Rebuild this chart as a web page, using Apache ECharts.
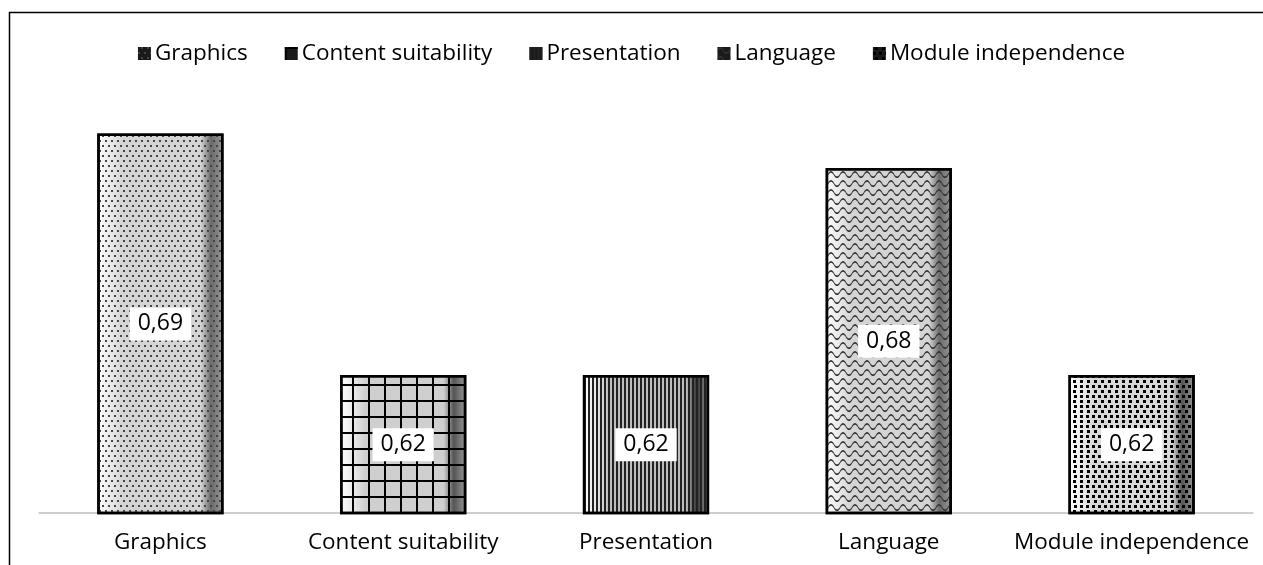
<!DOCTYPE html>
<html>
<head>
<meta charset="utf-8">
<script src="https://cdn.jsdelivr.net/npm/echarts@6/dist/echarts.min.js"></script>
<style>
html,body{margin:0;padding:0;background:#fff;}
#chart{width:1263px;height:565px;}
</style>
</head>
<body>
<div id="chart"></div>
<script>
// ---- data ----
const categories = ['Graphics', 'Content suitability', 'Presentation', 'Language', 'Module independence'];
const seriesNames = ['Graphics', 'Content suitability', 'Presentation', 'Language', 'Module independence'];
const values = [0.69, 0.62, 0.62, 0.68, 0.62];
const yMin = 0.58;
const yMax = 0.70;

// ---- styles ----
function bevel(mid, dark) {
  return new echarts.graphic.LinearGradient(0, 0, 1, 0, [
    {offset: 0, color: '#ffffff'},
    {offset: 0.12, color: '#e6e6e6'},
    {offset: 0.2, color: mid},
    {offset: 0.82, color: mid},
    {offset: 0.9, color: dark},
    {offset: 1, color: '#9a9a9a'}
  ]);
}
const decals = [
  {symbol: 'rect', symbolSize: 1, symbolKeepAspect: false, color: '#444',
   dashArrayX: [[2, 4], [0, 3, 2, 1]], dashArrayY: [2, 3]},
  {symbol: 'rect', symbolSize: 1, symbolKeepAspect: false, color: '#000',
   dashArrayX: [[1, 0], [2, 14]], dashArrayY: [2, 0, 14, 0]},
  {symbol: 'rect', symbolSize: 1, symbolKeepAspect: false, color: '#222',
   dashArrayX: [1.6, 1.6], dashArrayY: [1, 0]},
  {symbol: 'path://M0,4 C2,0 4,0 6,4 C8,8 10,8 12,4 L12,6 C10,10 8,10 6,6 C4,2 2,2 0,6 Z',
   symbolSize: 1, symbolKeepAspect: false, color: '#333',
   dashArrayX: [12, 0], dashArrayY: [7, 2]},
  {symbol: 'rect', symbolSize: 1, symbolKeepAspect: false, color: '#000',
   dashArrayX: [[3, 3], [0, 1.5, 3, 1.5]], dashArrayY: [3, 2]}
];
const fills = [
  bevel('#d4d4d4', '#6a6a6a'),
  bevel('#cfcfcf', '#555'),
  bevel('#bdbdbd', '#333'),
  bevel('#d4d4d4', '#6a6a6a'),
  bevel('#d8d8d8', '#555')
];

const series = seriesNames.map((name, i) => ({
  name: name,
  type: 'bar',
  stack: 'all',
  barWidth: '52%',
  data: categories.map((c, j) => (j === i ? values[i] : '-')),
  itemStyle: {
    color: fills[i],
    decal: decals[i],
    borderColor: '#000',
    borderWidth: 2.5
  },
  label: {
    show: true,
    position: 'inside',
    formatter: p => String(p.value).replace('.', ','),
    backgroundColor: '#fff',
    color: '#000',
    fontFamily: 'Open Sans',
    fontWeight: 500,
    fontSize: 23,
    padding: [6, 8, 4, 8]
  }
}));

const chart = echarts.init(document.getElementById('chart'), null, {renderer: 'canvas'});
chart.setOption({
  animation: false,
  backgroundColor: '#fff',
  graphic: [{
    type: 'rect',
    shape: {x: 9.5, y: 12.5, width: 1300, height: 600},
    style: {fill: 'none', stroke: '#000', lineWidth: 1.5},
    silent: true
  }],
  legend: {
    top: 37,
    left: 'center',
    itemWidth: 13,
    itemHeight: 13,
    itemGap: 37,
    icon: 'rect',
    itemStyle: {color: '#1a1a1a', borderWidth: 0},
    textStyle: {fontFamily: 'Open Sans', fontSize: 22.5, color: '#000', padding: [0, 0, 0, -1]},
    data: seriesNames
  },
  grid: {left: 39, right: 10, top: 99, bottom: 52, containLabel: false},
  xAxis: {
    type: 'category',
    data: categories,
    axisLine: {lineStyle: {color: '#bfbfbf', width: 1.5}},
    axisTick: {show: false},
    axisLabel: {fontFamily: 'Open Sans', fontSize: 22.5, color: '#000', margin: 18, interval: 0}
  },
  yAxis: {
    type: 'value',
    min: yMin,
    max: yMax,
    show: false,
    splitLine: {show: false}
  },
  series: series
});
</script>
</body>
</html>
